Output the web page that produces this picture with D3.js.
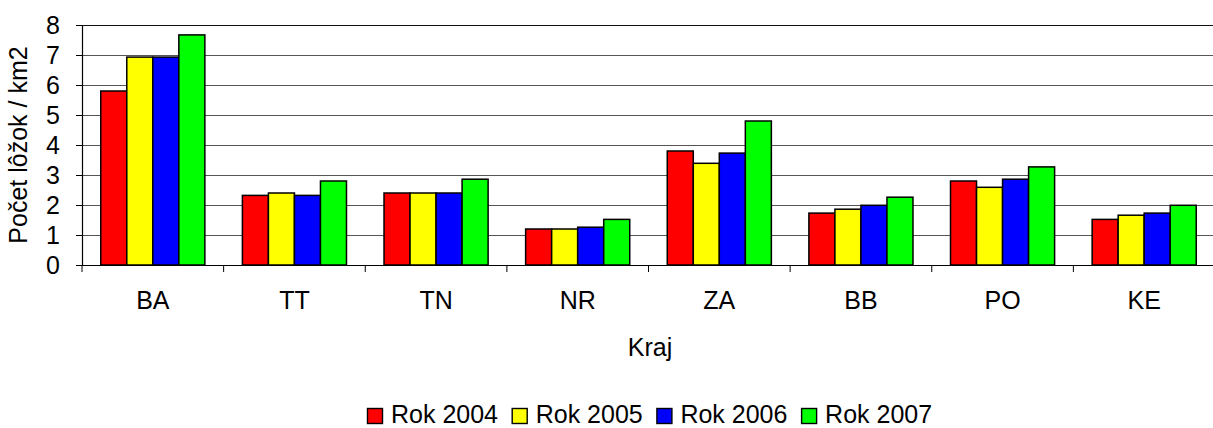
<!DOCTYPE html>
<html>
<head>
<meta charset="utf-8">
<script src="https://cdn.jsdelivr.net/npm/d3@7"></script>
<style>
  body { margin: 0; background: #fff; }
  text { font-family: "Liberation Sans", Arial, sans-serif; fill: #000; }
</style>
</head>
<body>
<div id="graph"></div>
<script>
const regions = ["BA", "TT", "TN", "NR", "ZA", "BB", "PO", "KE"];
const years = ["Rok 2004", "Rok 2005", "Rok 2006", "Rok 2007"];
const colors = ["#ff0000", "#ffff00", "#0000ff", "#00ff00"];
const rok2004 = [5.8, 2.32, 2.4, 1.2, 3.8, 1.73, 2.8, 1.52];
const rok2005 = [6.93, 2.4, 2.4, 1.2, 3.39, 1.86, 2.59, 1.66];
const rok2006 = [6.93, 2.32, 2.4, 1.26, 3.73, 1.99, 2.86, 1.73];
const rok2007 = [7.67, 2.8, 2.86, 1.52, 4.8, 2.26, 3.27, 1.99];
const yTicks = [0, 1, 2, 3, 4, 5, 6, 7, 8];

const series = [rok2004, rok2005, rok2006, rok2007];

const W = 1213, H = 428;
const svg = d3.select("#graph").append("svg")
  .attr("width", W).attr("height", H);

const margin = {top: 25, right: -2, bottom: 163, left: 82};
const width = W - margin.left - margin.right;
const height = H - margin.top - margin.bottom;

const x = d3.scaleBand().domain(regions).range([0, width]).paddingInner(0.265).paddingOuter(0.1325);
const x1 = d3.scaleBand().domain(d3.range(4)).range([0, x.bandwidth()]);
const y = d3.scaleLinear().domain([0, 8]).range([height, 0]);

const g = svg.append("g")
  .attr("transform", "translate(" + margin.left + "," + margin.top + ")");

// grid lines
g.append("g")
  .selectAll("line")
  .data(yTicks.slice(1))
  .enter().append("line")
  .attr("x1", 0).attr("x2", width)
  .attr("y1", d => Math.round(y(d)) + 0.5)
  .attr("y2", d => Math.round(y(d)) + 0.5)
  .attr("stroke", d => d === 8 ? "#111" : "#555")
  .attr("stroke-width", 1.2);

// bars
const groups = g.selectAll(".grp")
  .data(regions)
  .enter().append("g")
  .attr("class", "grp")
  .attr("transform", d => "translate(" + x(d) + ",0)");

groups.selectAll("rect")
  .data((d, i) => series.map((s, k) => ({k: k, v: s[i]})))
  .enter().append("rect")
  .attr("x", d => x1(d.k))
  .attr("y", d => y(d.v))
  .attr("width", x1.bandwidth())
  .attr("height", d => height - y(d.v))
  .attr("fill", d => colors[d.k])
  .attr("stroke", "#000")
  .attr("stroke-width", 1.5);

// y axis
const yAxis = g.append("g")
  .call(d3.axisLeft(y).tickValues(yTicks).tickSize(6).tickPadding(16).tickFormat(d3.format("d")));
yAxis.select(".domain").attr("stroke", "#000").attr("stroke-width", 1.2);
yAxis.selectAll(".tick line").attr("stroke", "#000");
yAxis.selectAll("text").attr("font-size", 25).attr("font-family", "Liberation Sans, Arial, sans-serif").attr("fill", "#000");

// x axis
const xBound = regions.map((r, i) => i * width / regions.length).concat([width]);
g.append("line")
  .attr("x1", 0).attr("x2", width)
  .attr("y1", height + 0.5).attr("y2", height + 0.5)
  .attr("stroke", "#000").attr("stroke-width", 1.2);
g.selectAll(".xtick")
  .data(xBound)
  .enter().append("line")
  .attr("class", "xtick")
  .attr("x1", d => d).attr("x2", d => d)
  .attr("y1", height).attr("y2", height + 7)
  .attr("stroke", "#000");
g.selectAll(".xlab")
  .data(regions)
  .enter().append("text")
  .attr("class", "xlab")
  .attr("x", d => x(d) + x.bandwidth() / 2)
  .attr("y", height + 44)
  .attr("text-anchor", "middle")
  .attr("font-size", 25)
  .text(d => d);

// axis titles
svg.append("text")
  .attr("x", 650).attr("y", 356)
  .attr("text-anchor", "middle")
  .attr("font-size", 25)
  .text("Kraj");

svg.append("text")
  .attr("transform", "translate(27," + (margin.top + height / 2) + ") rotate(-90)")
  .attr("text-anchor", "middle")
  .attr("font-size", 25)
  .text("Počet lôžok / km2");

// legend
const legend = svg.append("g").attr("transform", "translate(367,408)");
const item = legend.selectAll(".leg")
  .data(years)
  .enter().append("g")
  .attr("class", "leg")
  .attr("transform", (d, i) => "translate(" + (i * 144.7) + ",0)");
item.append("rect")
  .attr("x", 0.5).attr("y", 0.5)
  .attr("width", 15).attr("height", 15)
  .attr("fill", (d, i) => colors[i])
  .attr("stroke", "#000")
  .attr("stroke-width", 1.4);
item.append("text")
  .attr("x", 24).attr("y", 15)
  .attr("font-size", 25)
  .text(d => d);
</script>
</body>
</html>
